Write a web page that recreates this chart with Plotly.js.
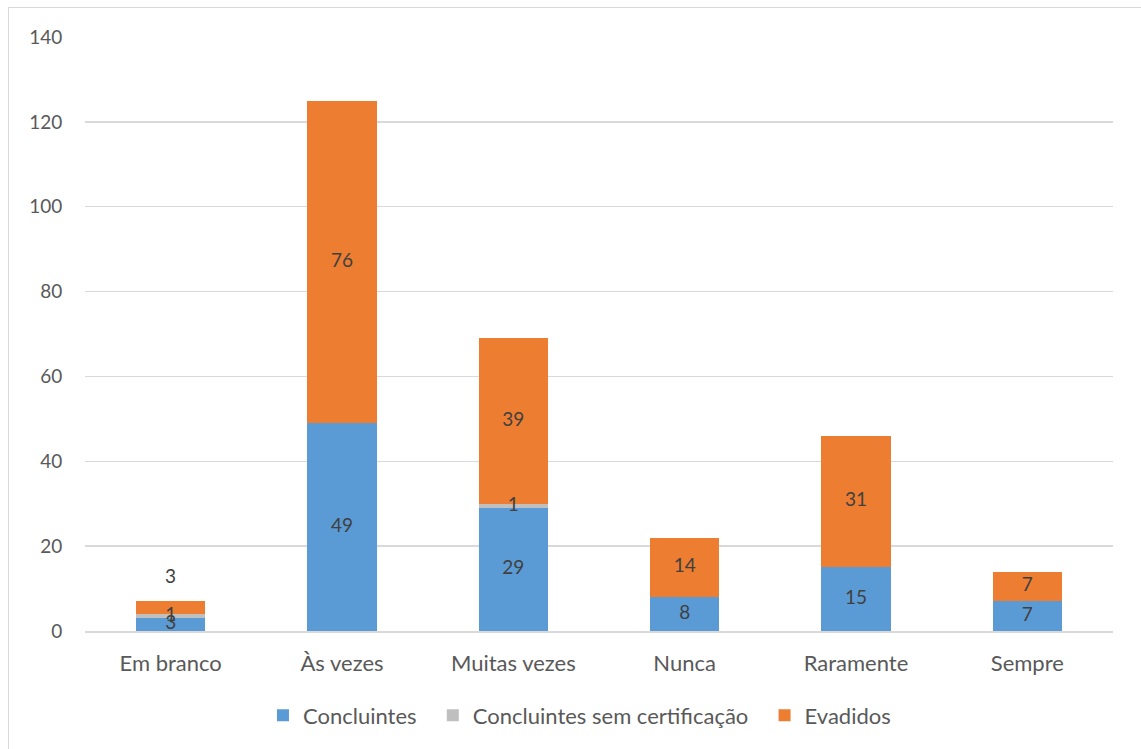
<!DOCTYPE html>
<html>
<head>
<meta charset="utf-8">
<script src="https://cdn.plot.ly/plotly-3.0.1.min.js"></script>
<style>
html,body{margin:0;padding:0;overflow:hidden;background:#fff;}
#wrap{position:relative;width:1141px;height:749px;overflow:hidden;}
#chart{position:absolute;left:0;top:0;width:1141px;height:749px;}
#frame{position:absolute;left:8px;top:7px;width:1200px;height:800px;border:1.5px solid #D9D9D9;pointer-events:none;}
</style>
</head>
<body>
<div id="wrap"><div id="chart"></div><div id="frame"></div></div>
<script>
var categories = ["Em branco", "Às vezes", "Muitas vezes", "Nunca", "Raramente", "Sempre"];
var concluintes = [3, 49, 29, 8, 15, 7];
var semCertificacao = [1, 0, 1, 0, 0, 0];
var evadidos = [3, 76, 39, 14, 31, 7];
var seriesNames = ["Concluintes", "Concluintes sem certificação", "Evadidos"];
var colors = ["#5B9BD5", "#BFBFBF", "#ED7D31"];

var FONT = "Lato, 'Open Sans', sans-serif";
var labelFont = {family: FONT, size: 19, color: "#404040"};
var seriesVals = [concluintes, semCertificacao, evadidos];
var pad = ["\u00a0\u00a0", "\u00a0\u00a0", ""];

var traces = seriesVals.map(function (vals, k) {
  return {
    type: "bar",
    name: seriesNames[k] + pad[k],
    x: categories,
    y: vals,
    marker: {color: colors[k], line: {width: 0}},
    hoverinfo: "skip"
  };
});

// data labels drawn on top of all bars, centred in each stacked segment
var base = categories.map(function () { return 0; });
seriesVals.forEach(function (vals, k) {
  var xs = [], ys = [], ts = [];
  vals.forEach(function (v, i) {
    if (v !== 0 && !(k === 2 && i === 0)) {
      xs.push(categories[i]);
      ys.push(base[i] + v / 2);
      ts.push(String(v));
    }
    base[i] += v;
  });
  traces.push({
    type: "scatter",
    mode: "text",
    x: xs,
    y: ys,
    text: ts,
    textposition: "middle center",
    textfont: labelFont,
    showlegend: false,
    hoverinfo: "skip",
    cliponaxis: false
  });
});

var totals0 = concluintes[0] + semCertificacao[0] + evadidos[0];

var layout = {
  width: 1141,
  height: 749,
  margin: {l: 85, r: 28, t: 37, b: 118},
  paper_bgcolor: "#FFFFFF",
  plot_bgcolor: "#FFFFFF",
  barmode: "stack",
  bargap: 0.595,
  font: {family: FONT, size: 19, color: "#595959"},
  xaxis: {
    type: "category",
    tickfont: {family: FONT, size: 22, color: "#595959"},
    ticklabelstandoff: 12,
    showline: true,
    linecolor: "#D9D9D9",
    linewidth: 1.5,
    ticks: "",
    showgrid: false,
    zeroline: false
  },
  yaxis: {
    range: [0, 140],
    dtick: 20,
    tickfont: {family: FONT, size: 19, color: "#595959"},
    showgrid: true,
    gridcolor: "#D9D9D9",
    gridwidth: 1.5,
    zeroline: false,
    showline: false,
    ticks: "outside",
    ticklen: 18,
    tickcolor: "rgba(0,0,0,0)"
  },
  legend: {
    orientation: "h",
    x: 0.481,
    xanchor: "center",
    y: -0.142,
    yanchor: "middle",
    font: {family: FONT, size: 22, color: "#595959"},
    traceorder: "normal",
    itemwidth: 30
  },
  annotations: [{
    x: categories[0],
    y: totals0,
    text: String(evadidos[0]),
    showarrow: false,
    yanchor: "bottom",
    yshift: 12,
    font: labelFont
  }],
  showlegend: true
};

Plotly.newPlot("chart", traces, layout, {displayModeBar: false, staticPlot: true});
</script>
</body>
</html>
